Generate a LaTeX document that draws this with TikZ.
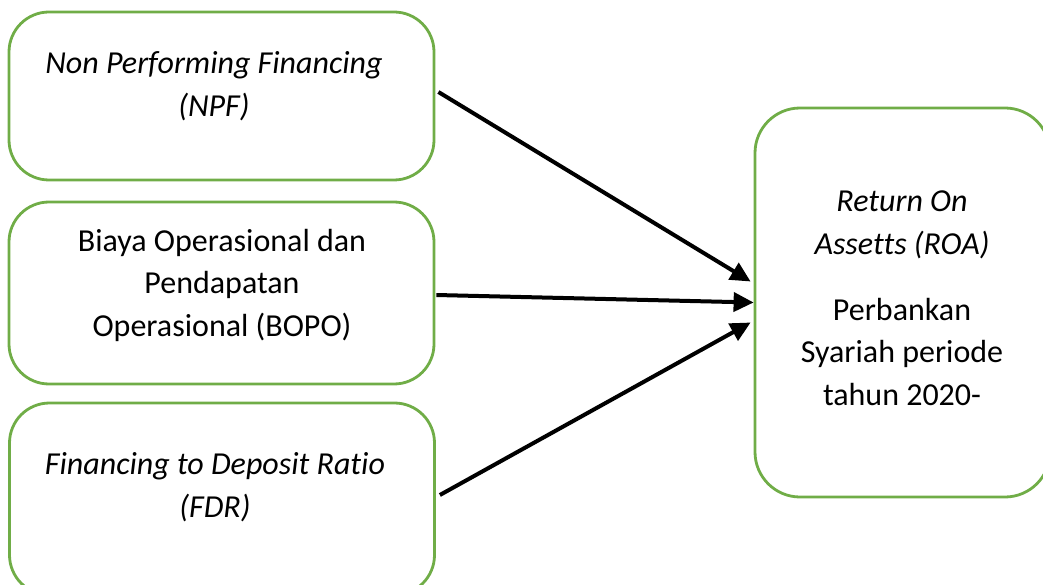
\documentclass[tikz,border=0pt]{standalone}
\usepackage{fontspec}
\setmainfont[Ligatures={NoCommon}]{Carlito}
\usetikzlibrary{arrows.meta,calc}
\definecolor{boxgreen}{HTML}{70AD47}
\begin{document}
\begin{tikzpicture}[x=1pt,y=-1pt,
 box/.style={draw=boxgreen,line width=2.8pt,rounded corners=40pt,rectangle,inner sep=0pt,minimum width=425pt},
 txt/.style={font=\fontsize{32}{42.5}\selectfont,align=center,inner sep=0pt},
 arr/.style={line width=4pt,-{Triangle[length=20pt,width=19pt]}}]
\useasboundingbox (0,0) rectangle (1043,585);
\clip (0,0) rectangle (1043,585);
\node[box,minimum height=168pt] (npf) at (221.5,96) {};
\node[box,minimum height=182pt] (bopo) at (221.5,293) {};
\node[box,minimum height=192pt] (fdr) at (222,499) {};
\node[box,minimum width=295pt,minimum height=389pt,rounded corners=45pt] (roa) at (902.5,302.5) {};
\node[txt] (t1) at (214,86) {\itshape Non Performing Financing\\\itshape (NPF)};
\node[txt] (t2) at (222,285) {Biaya Operasional dan\\Pendapatan\\Operasional (BOPO)};
\node[txt] (t3) at (215,487) {\itshape Financing to Deposit Ratio\\\itshape (FDR)};
\node[txt] (t4) at (902,225) {\itshape Return On\\\itshape Assetts (ROA)};
\node[txt] (t5) at (902,352) {Perbankan\\Syariah periode\\tahun 2020-};
\draw[arr] ($(npf.east)+(3,-4)$) -- ($(roa.west)+(-3,-21)$);
\draw[arr] ($(bopo.east)+(1,2)$) -- ($(roa.west)+(0,0)$);
\draw[arr] ($(fdr.east)+(4,-4)$) -- ($(roa.west)+(-3,20)$);
\end{tikzpicture}
\end{document}
